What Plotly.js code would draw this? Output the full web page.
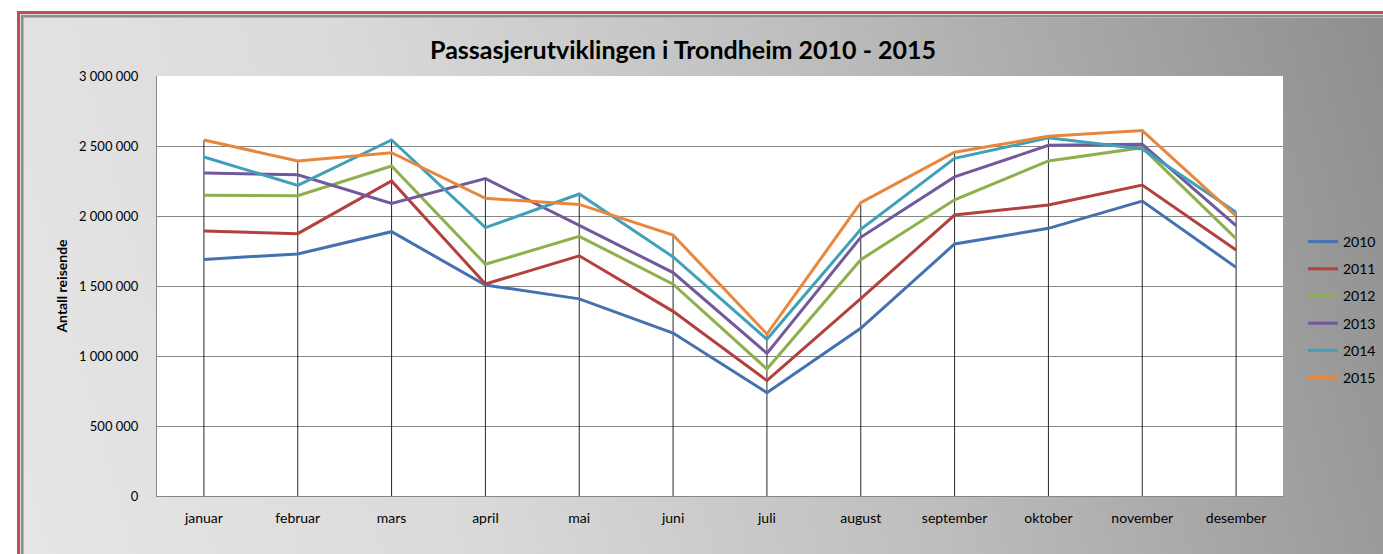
<!DOCTYPE html>
<html>
<head>
<meta charset="utf-8">
<script src="https://cdn.plot.ly/plotly-3.0.1.min.js"></script>
<style>
  html, body { margin:0; padding:0; width:1383px; height:554px; overflow:hidden; background:#ffffff; }
  #frame {
    position:absolute; left:17px; top:11px; width:1420px; height:600px;
    border:3px solid #c0504d; box-sizing:border-box;
    background: linear-gradient(75deg, #e6e6e6 0%, #dadada 30%, #bdbdbd 60%, #8a8a8a 100%);
    box-shadow: inset 0 0 0 1px #d6d6d6, inset 0 0 0 3px #8e8e8e, inset 0 0 0 4px #b4b4b4;
  }
  #chart { position:absolute; left:0; top:0; width:1383px; height:554px; }
</style>
</head>
<body>
<div id="frame"></div>
<div id="chart"></div>
<script>
const months = ["januar","februar","mars","april","mai","juni","juli","august","september","oktober","november","desember"];
const years = ["2010","2011","2012","2013","2014","2015"];
const v2010 = [1690000,1729000,1888000,1507000,1408000,1164000,738000,1198000,1800000,1912000,2107000,1633000];
const v2011 = [1893000,1874000,2250000,1514000,1716000,1319000,824000,1410000,2007000,2079000,2221000,1757000];
const v2012 = [2148000,2145000,2357000,1655000,1855000,1513000,907000,1688000,2116000,2393000,2488000,1838000];
const v2013 = [2307000,2295000,2090000,2267000,1933000,1596000,1019000,1848000,2279000,2505000,2512000,1931000];
const v2014 = [2421000,2219000,2543000,1917000,2157000,1708000,1119000,1905000,2412000,2559000,2479000,2026000];
const v2015 = [2543000,2393000,2452000,2126000,2083000,1864000,1157000,2095000,2455000,2569000,2610000,2000000];
const series = [v2010, v2011, v2012, v2013, v2014, v2015];
const colors = ["#4472b0","#b2413e","#8db04c","#71599b","#40a0ba","#e8873c"];

// Drop lines: from highest value of each month down to the category axis
const dropX = [], dropY = [];
months.forEach((m, i) => {
  const top = Math.max(...series.map(s => s[i]));
  dropX.push(m, m, null);
  dropY.push(0, top, null);
});

const traces = [{
  x: dropX, y: dropY, type: 'scatter', mode: 'lines',
  line: {color: 'rgba(0,0,0,0.85)', width: 1},
  showlegend: false, hoverinfo: 'skip'
}];
series.forEach((s, k) => {
  traces.push({
    x: months, y: s, type: 'scatter', mode: 'lines', name: years[k],
    legendgroup: years[k],
    line: {color: colors[k], width: 3}
  });
});

const layout = {
  width: 1383, height: 554,
  paper_bgcolor: 'rgba(0,0,0,0)',
  plot_bgcolor: '#ffffff',
  separators: ', ',
  margin: {l: 157, r: 100, t: 76, b: 58, pad: 0},
  font: {family: 'Lato, "Open Sans", sans-serif', size: 13, color: '#000000'},
  title: {
    text: '<b>Passasjerutviklingen i Trondheim 2010 - 2015</b>',
    font: {family: 'Lato, "Open Sans", sans-serif', size: 25, color: '#000000'},
    xref: 'container', yref: 'container',
    x: 0.4939, xanchor: 'center', y: 1 - 50/554, yanchor: 'middle'
  },
  xaxis: {
    type: 'category', range: [-0.5, 11.5],
    showgrid: false, zeroline: false,
    showline: true, linecolor: '#868686', linewidth: 1,
    ticks: '', ticklabelstandoff: 9,
    tickfont: {size: 14}
  },
  yaxis: {
    range: [0, 3000000], dtick: 500000, tickformat: ',d',
    showgrid: true, gridcolor: '#868686', gridwidth: 1,
    zeroline: false,
    showline: true, linecolor: '#868686', linewidth: 1,
    ticks: '', ticklabelstandoff: 15,
    tickfont: {size: 13},
    title: {text: '<b>Antall reisende</b>', font: {size: 14}, standoff: 8}
  },
  showlegend: true,
  legend: {
    x: 1303/1383, xref: 'container', xanchor: 'left',
    y: 1 - 226/554, yref: 'container', yanchor: 'top',
    bgcolor: 'rgba(0,0,0,0)',
    font: {size: 14, color: '#000000'},
    itemwidth: 30, tracegroupgap: 6,
    traceorder: 'grouped'
  }
};

Plotly.newPlot('chart', traces, layout, {displayModeBar: false, staticPlot: true});
</script>
</body>
</html>
